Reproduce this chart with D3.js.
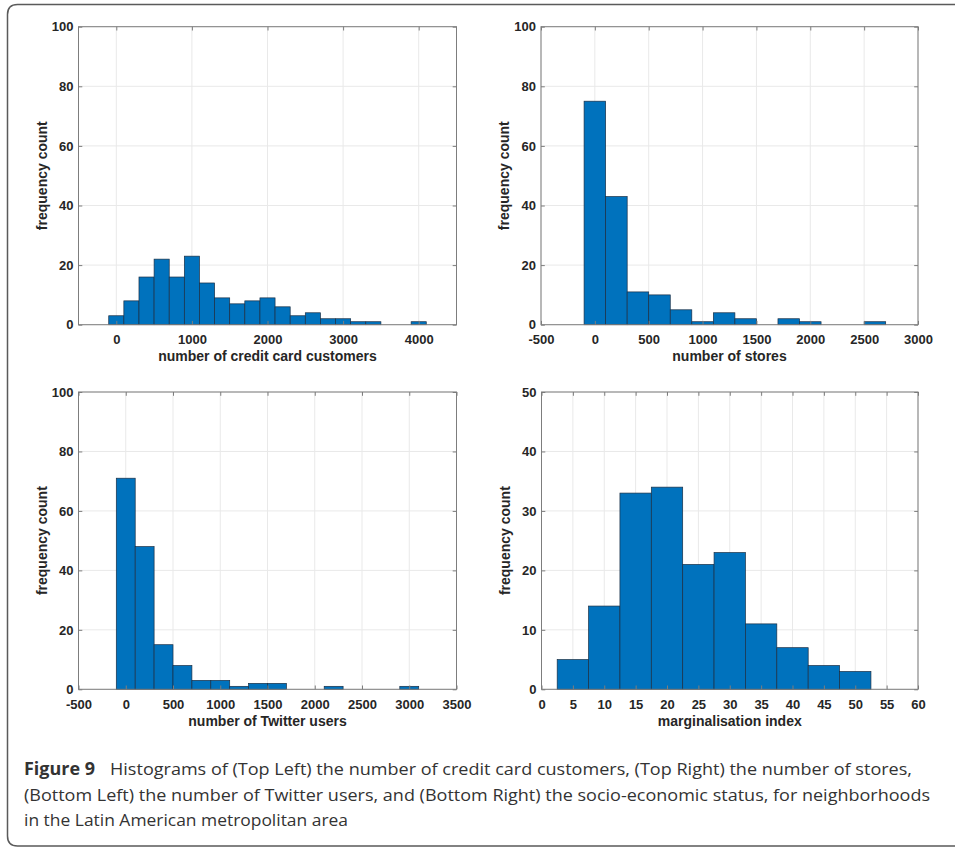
<!DOCTYPE html>
<html>
<head>
<meta charset="utf-8">
<script src="https://cdn.jsdelivr.net/npm/d3@7"></script>
<style>
  html, body { margin: 0; padding: 0; background: #fff; }
  svg { display: block; }
</style>
</head>
<body>
<svg id="fig" width="955" height="850"></svg>
<script>
// ---- Data: histogram bin edges and counts per panel ----
const customerEdges = [-100, 100, 300, 500, 700, 900, 1100, 1300, 1500, 1700, 1900,
                       2100, 2300, 2500, 2700, 2900, 3100, 3300, 3500, 3700, 3900, 4100];
const customerCounts = [3, 8, 16, 22, 16, 23, 14, 9, 7, 8, 9, 6, 3, 4, 2, 2, 1, 1, 0, 0, 1];

const storeEdges = [-100, 100, 300, 500, 700, 900, 1100, 1300, 1500, 1700, 1900,
                    2100, 2300, 2500, 2700];
const storeCounts = [75, 43, 11, 10, 5, 1, 4, 2, 0, 2, 1, 0, 0, 1];

const twitterEdges = [-100, 100, 300, 500, 700, 900, 1100, 1300, 1500, 1700, 1900,
                      2100, 2300, 2500, 2700, 2900, 3100];
const twitterCounts = [71, 48, 15, 8, 3, 3, 1, 2, 2, 0, 0, 1, 0, 0, 0, 1];

const margEdges = [2.5, 7.5, 12.5, 17.5, 22.5, 27.5, 32.5, 37.5, 42.5, 47.5, 52.5];
const margCounts = [5, 14, 33, 34, 21, 23, 11, 7, 4, 3];

// ---- Axis ranges and tick labels ----
const customerXDomain = [-500, 4500];
const customerXTicks = [0, 1000, 2000, 3000, 4000];
const storeXDomain = [-500, 3000];
const storeXTicks = [-500, 0, 500, 1000, 1500, 2000, 2500, 3000];
const twitterXDomain = [-500, 3500];
const twitterXTicks = [-500, 0, 500, 1000, 1500, 2000, 2500, 3000, 3500];
const margXDomain = [0, 60];
const margXTicks = [0, 5, 10, 15, 20, 25, 30, 35, 40, 45, 50, 55, 60];

const countYDomain = [0, 100];
const countYTicks = [0, 20, 40, 60, 80, 100];
const margYDomain = [0, 50];
const margYTicks = [0, 10, 20, 30, 40, 50];

const xLabels = ["number of credit card customers", "number of stores",
                 "number of Twitter users", "marginalisation index"];
const yLabel = "frequency count";

const captionBold = "Figure 9";
const captionLines = [
  "Histograms of (Top Left) the number of credit card customers, (Top Right) the number of stores,",
  "(Bottom Left) the number of Twitter users, and (Bottom Right) the socio-economic status, for neighborhoods",
  "in the Latin American metropolitan area"
];

// ---- Drawing ----
const svg = d3.select("#fig");
const AX_FONT = "'Liberation Sans', Arial, Helvetica, sans-serif";
const TXT = "#262626";
const BOX = "#7d7d7d";
const GRID = "#e9e9e9";
const BAR = "#0072BD";
const plainNumber = d => String(d);   // ASCII hyphen, no thousands separator

// Outer figure frame (open on the right edge)
svg.append("path")
  .attr("d", "M 962 4.5 L 17.5 4.5 Q 7.5 4.5 7.5 14.5 L 7.5 836 Q 7.5 846 17.5 846 L 962 846")
  .attr("fill", "none")
  .attr("stroke", "#5a5a5a")
  .attr("stroke-width", 1.5);

const panels = [
  { left: 78.5, right: 456.5, top: 26.7, bottom: 324.7,
    edges: customerEdges, counts: customerCounts,
    xDomain: customerXDomain, xTicks: customerXTicks,
    yDomain: countYDomain, yTicks: countYTicks, xLabel: xLabels[0] },
  { left: 541, right: 918, top: 26.7, bottom: 324.7,
    edges: storeEdges, counts: storeCounts,
    xDomain: storeXDomain, xTicks: storeXTicks,
    yDomain: countYDomain, yTicks: countYTicks, xLabel: xLabels[1] },
  { left: 78.5, right: 456.5, top: 392, bottom: 689.3,
    edges: twitterEdges, counts: twitterCounts,
    xDomain: twitterXDomain, xTicks: twitterXTicks,
    yDomain: countYDomain, yTicks: countYTicks, xLabel: xLabels[2] },
  { left: 541.5, right: 918, top: 392, bottom: 689.3,
    edges: margEdges, counts: margCounts,
    xDomain: margXDomain, xTicks: margXTicks,
    yDomain: margYDomain, yTicks: margYTicks, xLabel: xLabels[3] }
];

panels.forEach(p => {
  const x = d3.scaleLinear().domain(p.xDomain).range([p.left, p.right]);
  const y = d3.scaleLinear().domain(p.yDomain).range([p.bottom, p.top]);
  const g = svg.append("g");

  // grid
  g.append("g").selectAll("line").data(p.xTicks).join("line")
    .attr("x1", d => x(d)).attr("x2", d => x(d))
    .attr("y1", p.top).attr("y2", p.bottom)
    .attr("stroke", GRID).attr("stroke-width", 1);
  g.append("g").selectAll("line").data(p.yTicks).join("line")
    .attr("x1", p.left).attr("x2", p.right)
    .attr("y1", d => y(d)).attr("y2", d => y(d))
    .attr("stroke", GRID).attr("stroke-width", 1);

  // bars
  const bins = p.counts.map((c, i) => ({ x0: p.edges[i], x1: p.edges[i + 1], n: c }));
  g.append("g").selectAll("rect").data(bins).join("rect")
    .attr("x", d => x(d.x0))
    .attr("width", d => x(d.x1) - x(d.x0))
    .attr("y", d => y(d.n))
    .attr("height", d => y(0) - y(d.n))
    .attr("fill", BAR)
    .attr("stroke", "#1b2f45")
    .attr("stroke-width", 0.7);

  // axes with inward ticks
  const tick = 3.8;
  const styleAxis = sel => {
    sel.select(".domain").remove();
    sel.selectAll(".tick line").attr("stroke", BOX).attr("stroke-width", 1);
    sel.selectAll(".tick text")
      .attr("fill", TXT)
      .style("font-family", AX_FONT)
      .style("font-weight", "bold")
      .style("font-size", "13px");
  };
  g.append("g").attr("transform", `translate(0,${p.bottom})`)
    .call(d3.axisBottom(x).tickValues(p.xTicks).tickFormat(plainNumber)
      .tickSizeInner(-tick).tickSizeOuter(0).tickPadding(10))
    .call(styleAxis);
  g.append("g").attr("transform", `translate(0,${p.top})`)
    .call(d3.axisTop(x).tickValues(p.xTicks).tickSizeInner(-tick).tickSizeOuter(0).tickFormat(""))
    .call(styleAxis);
  g.append("g").attr("transform", `translate(${p.left},0)`)
    .call(d3.axisLeft(y).tickValues(p.yTicks).tickFormat(plainNumber)
      .tickSizeInner(-tick).tickSizeOuter(0).tickPadding(5))
    .call(styleAxis);
  g.append("g").attr("transform", `translate(${p.right},0)`)
    .call(d3.axisRight(y).tickValues(p.yTicks).tickSizeInner(-tick).tickSizeOuter(0).tickFormat(""))
    .call(styleAxis);

  // box
  g.append("rect")
    .attr("x", p.left).attr("y", p.top)
    .attr("width", p.right - p.left).attr("height", p.bottom - p.top)
    .attr("fill", "none").attr("stroke", BOX).attr("stroke-width", 1);

  // axis labels
  g.append("text")
    .attr("x", (p.left + p.right) / 2)
    .attr("y", p.bottom + 36.5)
    .attr("text-anchor", "middle")
    .attr("fill", TXT)
    .style("font-family", AX_FONT).style("font-weight", "bold").style("font-size", "14px")
    .text(p.xLabel);
  g.append("text")
    .attr("transform", `translate(${p.left - 32},${(p.top + p.bottom) / 2}) rotate(-90)`)
    .attr("text-anchor", "middle")
    .attr("fill", TXT)
    .style("font-family", AX_FONT).style("font-weight", "bold").style("font-size", "14px")
    .text(yLabel);
});

// ---- Caption ----
const CAP_FONT = "'Open Sans', 'Noto Sans', sans-serif";
const cap = svg.append("g").attr("fill", "#333333")
  .style("font-family", CAP_FONT).style("font-size", "17px");
cap.append("text")
  .attr("x", 24).attr("y", 775)
  .attr("textLength", 71).attr("lengthAdjust", "spacingAndGlyphs")
  .style("font-weight", "bold")
  .text(captionBold);
const lineSpec = [
  { x: 110, y: 775, w: 802 },
  { x: 24, y: 801, w: 906 },
  { x: 24, y: 826, w: 324 }
];
captionLines.forEach((t, i) => {
  cap.append("text")
    .attr("x", lineSpec[i].x).attr("y", lineSpec[i].y)
    .attr("textLength", lineSpec[i].w).attr("lengthAdjust", "spacingAndGlyphs")
    .style("font-weight", 400)
    .text(t);
});
</script>
</body>
</html>
